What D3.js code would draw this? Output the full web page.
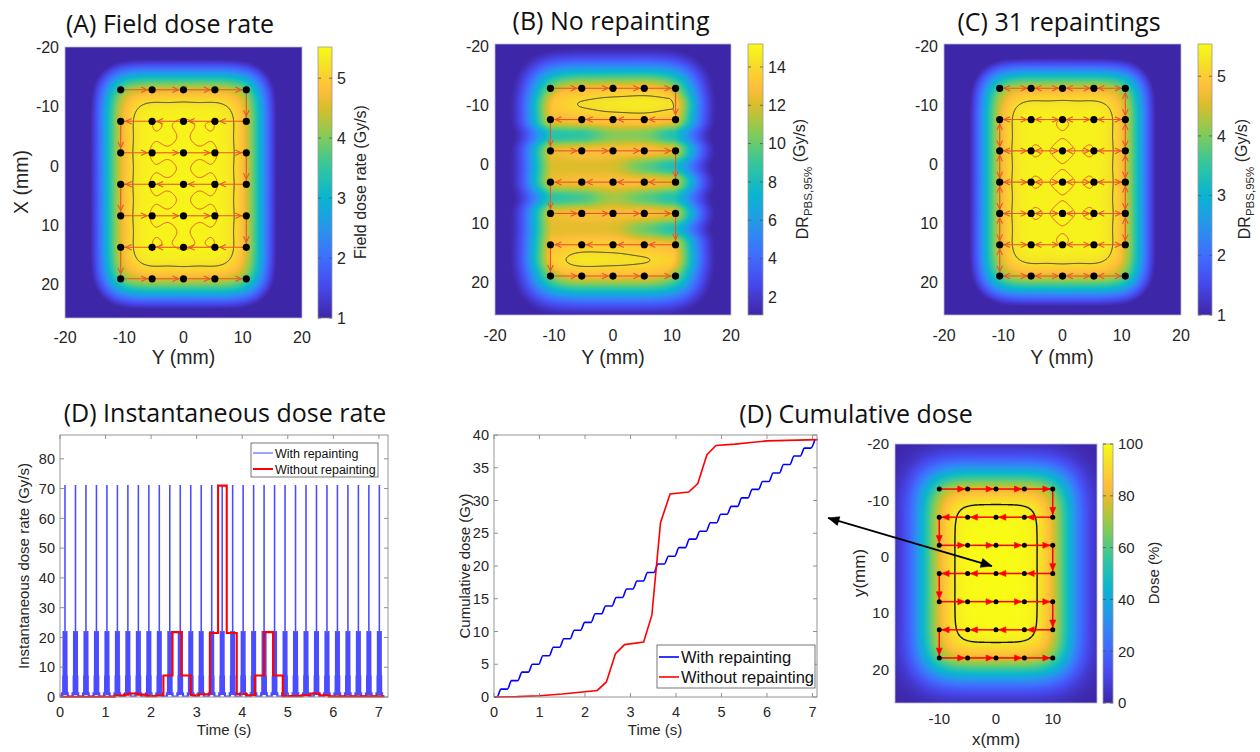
<!DOCTYPE html>
<html>
<head>
<meta charset="utf-8">
<script src="https://cdn.jsdelivr.net/npm/d3@7"></script>
<style>
  body { margin: 0; background: #fff; }
  text { font-family: "Liberation Sans", Arial, sans-serif; fill: #262626; }
  .title { font-family: "Open Sans", "Noto Sans", sans-serif; fill: #111; }
</style>
</head>
<body>
<svg id="fig" width="1260" height="752"></svg>
<script>
(function(d3) {
  'use strict';

  // ---------- data ----------
  var mapTicks = [-20, -10, 0, 10, 20];
  var spotColsABC = [-10.6, -5.3, 0, 5.3, 10.6];                 // mm
  var spotRowsABC = [-12.8, -7.5, -2.2, 3.1, 8.4, 13.7, 19.0];   // mm
  var spotColsD = [-10, -5, 0, 5, 10];
  var spotRowsD = [-12, -7, -2, 3, 8, 13, 18];

  var peakRateA = 5.45;   // Gy/s, plateau of field dose rate
  var peakRateC = 5.45;
  var cbTicksA = [1, 2, 3, 4, 5];
  var cbTicksB = [2, 4, 6, 8, 10, 12, 14];
  var cbTicksC = [1, 2, 3, 4, 5];
  var cbTicksD = [0, 20, 40, 60, 80, 100];

  // (B) DR_PBS,95% on the spot columns, on spot rows and half way between them (Gy/s)
  var drRowsB = [-12.8, -10.15, -7.5, -4.85, -2.2, 0.45, 3.1, 5.75, 8.4, 11.05, 13.7, 16.35, 19.0];
  var drGridB = [
    [12.6, 13.0, 13.2, 13.4, 13.0],
    [13.4, 14.2, 14.6, 14.8, 14.3],
    [12.8, 13.2, 13.5, 13.6, 13.0],
    [ 8.0,  8.2, 10.4, 10.2,  7.6],
    [12.6, 13.2, 13.0, 13.4, 12.6],
    [12.0, 12.0, 12.0,  9.4,  7.6],
    [12.6, 13.0, 13.0, 13.2, 12.6],
    [ 8.2,  8.8, 11.2,  9.4,  7.8],
    [12.6, 13.0, 12.8, 13.2, 12.6],
    [12.2, 12.2, 12.2,  9.8,  7.8],
    [13.0, 13.6, 13.6, 13.2, 12.8],
    [13.6, 14.6, 14.4, 14.2, 13.6],
    [12.6, 13.0, 13.0, 13.0, 12.6]
  ];

  var timeTicks = [0, 1, 2, 3, 4, 5, 6, 7];
  var rateTicks = [0, 10, 20, 30, 40, 50, 60, 70, 80];
  var doseTicks = [0, 5, 10, 15, 20, 25, 30, 35, 40];

  // with repainting: one pulse per repainting (spike time, s)
  var repaintTimes = [0.11, 0.34, 0.57, 0.80, 1.03, 1.26, 1.49, 1.72, 1.95, 2.18, 2.41,
                      2.64, 2.87, 3.10, 3.33, 3.56, 3.79, 4.02, 4.25, 4.48, 4.71, 4.94,
                      5.17, 5.40, 5.63, 5.86, 6.09, 6.32, 6.55, 6.78, 7.01];
  // shape of one pulse: time offset from the spike (s) and dose rate (Gy/s)
  var pulseOffsets = [-0.115, -0.075, -0.066, -0.050, -0.042, -0.033, -0.025, -0.013, -0.004,
                      0.004, 0.013, 0.025, 0.033, 0.042, 0.050, 0.062, 0.071];
  var pulseRates   = [0.3, 1.4, 0.3, 7, 22, 7, 0.9, 21.5, 71, 21.5, 0.9, 7, 22, 7, 0.3, 1.4, 0.3];

  // without repainting: step function
  var noRepTimes = [0, 1.2, 1.4, 1.5, 1.7, 1.9, 2.1, 2.27, 2.47, 2.67, 2.87, 3.05, 3.29, 3.47,
                    3.66, 3.88, 4.1, 4.28, 4.48, 4.68, 4.89, 5.3, 5.5, 5.7, 5.9, 7.12];
  var noRepRates = [0.1, 0.5, 0.8, 1.2, 0.8, 0.3, 0.5, 7.2, 21.8, 7.2, 0.6, 0.9, 21.5, 71,
                    21.5, 1.0, 0.6, 7.2, 21.8, 7.2, 0.3, 0.6, 1.2, 0.6, 0.2, 0.2];

  // cumulative dose (Gy)
  var cumWithLevels = [1.2, 2.5, 3.8, 5.0, 6.3, 7.6, 8.9, 10.2, 11.4, 12.7, 13.9, 15.2, 16.5,
                       17.7, 19.0, 20.3, 21.5, 22.8, 24.1, 25.3, 26.6, 27.9, 29.1, 30.4, 31.7,
                       32.9, 34.2, 35.5, 36.8, 38.0, 39.3];
  var cumWithoutTimes = [0, 0.5, 1.0, 1.5, 2.0, 2.27, 2.47, 2.67, 2.87, 3.29, 3.47, 3.66, 3.87,
                         4.28, 4.48, 4.68, 4.88, 5.3, 5.7, 6.0, 7.12];
  var cumWithoutDose  = [0, 0.05, 0.2, 0.45, 0.8, 1.0, 2.3, 6.6, 8.0, 8.4, 12.5, 26.6, 31.0,
                         31.3, 32.6, 37.0, 38.4, 38.6, 38.9, 39.1, 39.3];

  // MATLAB parula
  var parulaStops  = [0, 0.111, 0.222, 0.333, 0.444, 0.556, 0.667, 0.778, 0.841, 0.889, 0.937, 1];
  var parulaColors = ['#3e26a8', '#4747eb', '#3e6fff', '#2796eb', '#08b5d0', '#31c69f',
                      '#80cc59', '#dcbd29', '#febe3c', '#fccf30', '#f5e327', '#f9fb15'];

  var svg = d3.select('#fig');
  var defs = svg.append('defs');

  function parula(lo, hi) {
    return d3.scaleLinear()
      .domain(parulaStops.map(function(s) { return lo + s * (hi - lo); }))
      .range(parulaColors)
      .clamp(true);
  }

  function gaussSum(cols, rows, sigma) {
    var k = 1 / (2 * sigma * sigma);
    return function(x, y) {
      var s = 0;
      for (var i = 0; i < cols.length; i++) {
        for (var j = 0; j < rows.length; j++) {
          var dx = x - cols[i], dy = y - rows[j];
          s += Math.exp(-(dx * dx + dy * dy) * k);
        }
      }
      return s;
    };
  }

  // ---------- heat map with contours ----------
  function drawMap(p) {
    var x = d3.scaleLinear().domain(p.xDom).range([p.x0, p.x1]);
    var y = d3.scaleLinear().domain(p.yDom).range([p.y0, p.y1]);
    var w = Math.round(p.x1 - p.x0), h = Math.round(p.y1 - p.y0);
    var vals = new Float64Array(w * h);
    var canvas = document.createElement('canvas');
    canvas.width = w; canvas.height = h;
    var ctx = canvas.getContext('2d');
    var img = ctx.createImageData(w, h);
    for (var j = 0; j < h; j++) {
      for (var i = 0; i < w; i++) {
        var k = j * w + i;
        var v = p.value(x.invert(p.x0 + i + 0.5), y.invert(p.y0 + j + 0.5));
        vals[k] = v;
        var c = d3.rgb(p.color(v));
        img.data[4 * k] = c.r; img.data[4 * k + 1] = c.g;
        img.data[4 * k + 2] = c.b; img.data[4 * k + 3] = 255;
      }
    }
    ctx.putImageData(img, 0, 0);
    var g = svg.append('g');
    g.append('image')
      .attr('x', p.x0).attr('y', p.y0)
      .attr('width', w).attr('height', h)
      .attr('preserveAspectRatio', 'none')
      .attr('href', canvas.toDataURL());
    var path = d3.geoPath();
    p.contours.forEach(function(c) {
      var cont = d3.contours().size([w, h]).thresholds([c.level])(vals)[0];
      g.append('path')
        .datum(cont)
        .attr('transform', 'translate(' + p.x0 + ',' + p.y0 + ')')
        .attr('d', path)
        .attr('fill', 'none')
        .attr('stroke', c.stroke)
        .attr('stroke-width', c.width);
    });
    g.append('rect')
      .attr('x', p.x0).attr('y', p.y0)
      .attr('width', p.x1 - p.x0).attr('height', p.y1 - p.y0)
      .attr('fill', 'none').attr('stroke', '#b8b8c8').attr('stroke-width', 0.8);

    // tick labels
    (p.xTicks || mapTicks).forEach(function(t) {
      svg.append('text')
        .attr('x', x(t)).attr('y', p.xLabY)
        .attr('text-anchor', 'middle')
        .style('font-size', p.tickSize + 'px')
        .text(t);
    });
    mapTicks.forEach(function(t) {
      svg.append('text')
        .attr('x', p.x0 - 6).attr('y', y(t))
        .attr('dy', '0.36em')
        .attr('text-anchor', 'end')
        .style('font-size', p.tickSize + 'px')
        .text(t);
    });
    return { x: x, y: y, g: g };
  }

  function colorbar(x0, x1, y0, y1, dom, ticks, color, id, fontSize) {
    var s = d3.scaleLinear().domain(dom).range([y1, y0]);
    var grad = defs.append('linearGradient')
      .attr('id', id).attr('x1', 0).attr('y1', 1).attr('x2', 0).attr('y2', 0);
    d3.range(0, 1.0001, 0.02).forEach(function(f) {
      grad.append('stop')
        .attr('offset', f)
        .attr('stop-color', color(dom[0] + f * (dom[1] - dom[0])));
    });
    svg.append('rect')
      .attr('x', x0).attr('y', y0)
      .attr('width', x1 - x0).attr('height', y1 - y0)
      .attr('fill', 'url(#' + id + ')')
      .attr('stroke', '#9a9a9a').attr('stroke-width', 0.8);
    ticks.forEach(function(t) {
      svg.append('line')
        .attr('x1', x1).attr('x2', x1 - 3)
        .attr('y1', s(t)).attr('y2', s(t))
        .attr('stroke', '#555').attr('stroke-width', 0.8);
      svg.append('line')
        .attr('x1', x0).attr('x2', x0 + 3)
        .attr('y1', s(t)).attr('y2', s(t))
        .attr('stroke', '#555').attr('stroke-width', 0.8);
      svg.append('text')
        .attr('x', x1 + 5).attr('y', s(t))
        .attr('dy', '0.36em')
        .style('font-size', fontSize + 'px')
        .text(t);
    });
  }

  function rotLabel(x, y, size, parts) {
    var t = svg.append('text')
      .attr('transform', 'translate(' + x + ',' + y + ') rotate(-90)')
      .attr('text-anchor', 'middle')
      .style('font-size', size + 'px');
    parts.forEach(function(pt) {
      var ts = t.append('tspan').text(pt.text);
      if (pt.sub) ts.attr('dy', '0.35em').style('font-size', (size * 0.72) + 'px');
      if (pt.back) ts.attr('dy', '-0.45em');
    });
    return t;
  }

  function label(x, y, size, txt, cls) {
    return svg.append('text')
      .attr('class', cls || null)
      .attr('x', x).attr('y', y)
      .attr('text-anchor', 'middle')
      .style('font-size', size + 'px')
      .text(txt);
  }

  // ---------- scan pattern arrows ----------
  function head(g, ax, ay, bx, by, at, len, half, solid, color, width) {
    var dx = bx - ax, dy = by - ay, L = Math.sqrt(dx * dx + dy * dy);
    var ux = dx / L, uy = dy / L;
    var tx = ax + dx * at, ty = ay + dy * at;
    var cx = tx - ux * len, cy = ty - uy * len;
    var d = 'M' + (cx - uy * half) + ',' + (cy + ux * half) +
            'L' + tx + ',' + ty +
            'L' + (cx + uy * half) + ',' + (cy - ux * half);
    if (solid) {
      g.append('path').attr('d', d + 'Z').attr('fill', color).attr('stroke', color)
        .attr('stroke-width', 0.6);
    } else {
      g.append('path').attr('d', d).attr('fill', 'none').attr('stroke', color)
        .attr('stroke-width', width);
    }
  }

  function serpentine(cols, rows) {
    var pts = [];
    rows.forEach(function(r, i) {
      var cs = (i % 2) ? cols.slice().reverse() : cols;
      cs.forEach(function(c) { pts.push([c, r]); });
    });
    var segs = [];
    for (var i = 1; i < pts.length; i++) segs.push([pts[i - 1], pts[i]]);
    return segs;
  }

  function drawScan(m, segs, o) {
    segs.forEach(function(s) {
      var ax = m.x(s[0][0]), ay = m.y(s[0][1]), bx = m.x(s[1][0]), by = m.y(s[1][1]);
      m.g.append('line')
        .attr('x1', ax).attr('y1', ay).attr('x2', bx).attr('y2', by)
        .attr('stroke', o.color).attr('stroke-width', o.width);
      head(m.g, ax, ay, bx, by, o.at, o.len, o.half, o.solid, o.color, o.width);
      if (o.both) head(m.g, bx, by, ax, ay, o.at, o.len, o.half, o.solid, o.color, o.width);
    });
  }

  function drawSpots(m, cols, rows, r) {
    rows.forEach(function(yy) {
      cols.forEach(function(xx) {
        m.g.append('circle').attr('cx', m.x(xx)).attr('cy', m.y(yy)).attr('r', r)
          .attr('fill', '#000');
      });
    });
  }

  var scanStyle = { color: '#e9552b', width: 1.1, at: 0.84, len: 6, half: 2.8, solid: false };

  // ---------- (A) field dose rate ----------
  var sigmaABC = 3.2;
  var fABC = gaussSum(spotColsABC, spotRowsABC, sigmaABC);
  var nABC = fABC(0, 3.1);
  var cellABC = fABC(2.65, 5.75);

  var colA = parula(1, 5.52);
  var mA = drawMap({
    x0: 65, x1: 302, y0: 47, y1: 318, xDom: [-20, 20], yDom: [-20, 25.6],
    value: function(x, y) { return peakRateA * fABC(x, y) / nABC; },
    color: colA, xLabY: 343, tickSize: 16,
    contours: [
      { level: peakRateA * 0.95, stroke: '#3a3a3a', width: 1 },
      { level: peakRateA * (cellABC + 0.3 * (nABC - cellABC)) / nABC, stroke: '#e9552b', width: 1 }
    ]
  });
  drawScan(mA, serpentine(spotColsABC, spotRowsABC), scanStyle);
  drawSpots(mA, spotColsABC, spotRowsABC, 3.6);
  colorbar(318, 332, 47, 318, [1, 5.52], cbTicksA, colA, 'cbA', 16);
  rotLabel(366, 182, 16, [{ text: 'Field dose rate (Gy/s)' }]);
  rotLabel(28, 182, 19.5, [{ text: 'X (mm)' }]);
  label(183.5, 364, 19.5, 'Y (mm)');
  label(170, 33, 25, '(A) Field dose rate', 'title');

  // ---------- (B) no repainting ----------
  var sxB = 2.4, syB = 1.1;
  function nodeB(x, y) {
    var sw = 0, sv = 0;
    for (var r = 0; r < drRowsB.length; r++) {
      var dy = y - drRowsB[r];
      var wy = Math.exp(-dy * dy / (2 * syB * syB));
      for (var c = 0; c < spotColsABC.length; c++) {
        var dx = x - spotColsABC[c];
        var w = wy * Math.exp(-dx * dx / (2 * sxB * sxB)) + 1e-12;
        sw += w; sv += w * drGridB[r][c];
      }
    }
    return sv / sw;
  }
  var colB = parula(1.05, 15.2);
  var mB = drawMap({
    x0: 495, x1: 731, y0: 44, y1: 315, xDom: [-20, 20], yDom: [-20.3, 25.6],
    value: function(x, y) {
      var env = Math.min(1, 1.18 * fABC(x, y) / nABC);
      return nodeB(x, y) * env;
    },
    color: colB, xLabY: 341, tickSize: 16,
    contours: [{ level: 14, stroke: '#2a2a2a', width: 0.9 }]
  });
  drawScan(mB, serpentine(spotColsABC, spotRowsABC), scanStyle);
  drawSpots(mB, spotColsABC, spotRowsABC, 3.6);
  colorbar(748, 763, 44, 315, [1.05, 15.2], cbTicksB, colB, 'cbB', 16);
  rotLabel(808, 179, 16, [{ text: 'DR' }, { text: 'PBS,95%', sub: true }, { text: ' (Gy/s)', back: true }]);
  label(613, 364, 19.5, 'Y (mm)');
  label(611, 30, 25, '(B) No repainting', 'title');

  // ---------- (C) 31 repaintings ----------
  var colC = parula(1, 5.54);
  var mC = drawMap({
    x0: 944, x1: 1181, y0: 44, y1: 315, xDom: [-20, 20], yDom: [-20.3, 25.6],
    value: function(x, y) { return peakRateC * fABC(x, y) / nABC; },
    color: colC, xLabY: 341, tickSize: 16,
    contours: [
      { level: peakRateC * 0.95, stroke: '#3a3a3a', width: 1 },
      { level: peakRateC * (cellABC + 0.55 * (nABC - cellABC)) / nABC, stroke: '#e9552b', width: 1 }
    ]
  });
  var segsC = [];
  spotRowsABC.forEach(function(r) {
    for (var i = 1; i < spotColsABC.length; i++) segsC.push([[spotColsABC[i - 1], r], [spotColsABC[i], r]]);
  });
  for (var ri = 1; ri < spotRowsABC.length; ri++) {
    if (ri >= 2) segsC.push([[spotColsABC[0], spotRowsABC[ri - 1]], [spotColsABC[0], spotRowsABC[ri]]]);
    if (ri <= 5) segsC.push([[spotColsABC[4], spotRowsABC[ri - 1]], [spotColsABC[4], spotRowsABC[ri]]]);
  }
  drawScan(mC, segsC, Object.assign({}, scanStyle, { both: true, at: 0.86 }));
  drawSpots(mC, spotColsABC, spotRowsABC, 3.6);
  colorbar(1198, 1212, 44, 315, [1, 5.54], cbTicksC, colC, 'cbC', 16);
  rotLabel(1250, 179, 16, [{ text: 'DR' }, { text: 'PBS,95%', sub: true }, { text: ' (Gy/s)', back: true }]);
  label(1062, 364, 19.5, 'Y (mm)');
  label(1059, 31, 25, '(C) 31 repaintings', 'title');

  // ---------- line chart axes helper ----------
  function lineAxes(x0, x1, y0, y1, xDom, yDom, xt, yt, fs) {
    var x = d3.scaleLinear().domain(xDom).range([x0, x1]);
    var y = d3.scaleLinear().domain(yDom).range([y1, y0]);
    var g = svg.append('g');
    g.append('rect').attr('x', x0).attr('y', y0).attr('width', x1 - x0).attr('height', y1 - y0)
      .attr('fill', '#fff');
    var ax = svg.append('g');
    xt.forEach(function(t) {
      ax.append('line').attr('x1', x(t)).attr('x2', x(t)).attr('y1', y1).attr('y2', y1 - 4)
        .attr('stroke', '#777').attr('stroke-width', 0.8);
      ax.append('line').attr('x1', x(t)).attr('x2', x(t)).attr('y1', y0).attr('y2', y0 + 4)
        .attr('stroke', '#777').attr('stroke-width', 0.8);
      ax.append('text').attr('x', x(t)).attr('y', y1 + 20).attr('text-anchor', 'middle')
        .style('font-size', fs + 'px').text(t);
    });
    yt.forEach(function(t) {
      ax.append('line').attr('x1', x0).attr('x2', x0 + 4).attr('y1', y(t)).attr('y2', y(t))
        .attr('stroke', '#777').attr('stroke-width', 0.8);
      ax.append('line').attr('x1', x1).attr('x2', x1 - 4).attr('y1', y(t)).attr('y2', y(t))
        .attr('stroke', '#777').attr('stroke-width', 0.8);
      ax.append('text').attr('x', x0 - 5).attr('y', y(t)).attr('dy', '0.36em')
        .attr('text-anchor', 'end').style('font-size', fs + 'px').text(t);
    });
    ax.append('rect').attr('x', x0).attr('y', y0).attr('width', x1 - x0).attr('height', y1 - y0)
      .attr('fill', 'none').attr('stroke', '#8a8a8a').attr('stroke-width', 0.9);
    return { x: x, y: y, g: g, ax: ax };
  }

  function legend(x0, y0, w, h, rows, fs, lineLen, rowGap, firstY) {
    var g = svg.append('g');
    g.append('rect').attr('x', x0).attr('y', y0).attr('width', w).attr('height', h)
      .attr('fill', '#fff').attr('stroke', '#555').attr('stroke-width', 0.8);
    rows.forEach(function(r, i) {
      var yy = y0 + firstY + i * rowGap;
      g.append('line').attr('x1', x0 + 2).attr('x2', x0 + 2 + lineLen).attr('y1', yy).attr('y2', yy)
        .attr('stroke', r.color).attr('stroke-width', r.width);
      g.append('text').attr('x', x0 + 4 + lineLen).attr('y', yy).attr('dy', '0.36em')
        .style('font-size', fs + 'px').style('fill', '#111').text(r.text);
    });
  }

  // ---------- (D) instantaneous dose rate ----------
  var pI = lineAxes(60, 388, 435, 697, [0, 7.2], [0, 88], timeTicks, rateTicks, 14.5);
  var bluePts = [[0, 0.3]];
  repaintTimes.forEach(function(t) {
    pulseOffsets.forEach(function(o, i) { bluePts.push([Math.max(0, t + o), pulseRates[i]]); });
  });
  bluePts.push([7.12, 0.3]);
  var stepLine = d3.line()
    .x(function(d) { return pI.x(d[0]); })
    .y(function(d) { return pI.y(d[1]); })
    .curve(d3.curveStepAfter);
  pI.g.append('path').datum(bluePts).attr('d', stepLine)
    .attr('fill', 'none').attr('stroke', '#2b2bff').attr('stroke-opacity', 0.85).attr('stroke-width', 1.2);
  var redPts = noRepTimes.map(function(t, i) { return [t, noRepRates[i]]; });
  pI.g.append('path').datum(redPts).attr('d', stepLine)
    .attr('fill', 'none').attr('stroke', '#ff0000').attr('stroke-width', 2.1);
  legend(251, 443, 127, 34, [
    { text: 'With repainting', color: '#4444ff', width: 1 },
    { text: 'Without repainting', color: '#ff0000', width: 2 }
  ], 12.5, 20, 16, 10);
  rotLabel(29, 566, 15, [{ text: 'Instantaneous dose rate (Gy/s)' }]);
  label(224, 735, 15, 'Time (s)');
  label(225, 422, 25, '(D) Instantaneous dose rate', 'title');

  // ---------- (D) cumulative dose ----------
  var pC = lineAxes(494, 817, 435, 697, [0, 7.1], [0, 40], timeTicks, doseTicks, 14.5);
  var cumWith = [[0, 0]];
  repaintTimes.forEach(function(t, k) {
    cumWith.push([t - 0.045, k ? cumWithLevels[k - 1] : 0]);
    cumWith.push([t + 0.045, cumWithLevels[k]]);
  });
  var smoothLine = d3.line()
    .x(function(d) { return pC.x(d[0]); })
    .y(function(d) { return pC.y(d[1]); })
    .curve(d3.curveMonotoneX);
  pC.g.append('path').datum(cumWith).attr('d', smoothLine)
    .attr('fill', 'none').attr('stroke', '#0000ff').attr('stroke-width', 1.6);
  var cumWithout = cumWithoutTimes.map(function(t, i) { return [t, cumWithoutDose[i]]; });
  pC.g.append('path').datum(cumWithout).attr('d', smoothLine.curve(d3.curveLinear))
    .attr('fill', 'none').attr('stroke', '#ff0000').attr('stroke-width', 1.6);
  legend(657, 645, 158, 43, [
    { text: 'With repainting', color: '#0000ff', width: 1.6 },
    { text: 'Without repainting', color: '#ff0000', width: 1.6 }
  ], 16.5, 20, 20, 12);
  rotLabel(470, 566, 15, [{ text: 'Cumulative dose (Gy)' }]);
  label(655, 735, 15, 'Time (s)');
  label(856, 423, 25, '(D) Cumulative dose', 'title');

  // ---------- (D) dose map ----------
  var fD = gaussSum(spotColsD, spotRowsD, 3.5);
  var nD = fD(0, 3);
  var colD = parula(0, 100);
  var mD = drawMap({
    x0: 895, x1: 1097, y0: 444, y1: 703, xDom: [-17.8, 17.8], yDom: [-20, 26],
    value: function(x, y) { return 100 * fD(x, y) / nD; },
    color: colD, xLabY: 724, tickSize: 15, xTicks: [-10, 0, 10],
    contours: [{ level: 95, stroke: '#111', width: 1.4 }]
  });
  drawScan(mD, serpentine(spotColsD, spotRowsD),
    { color: '#ff0000', width: 1.5, at: 0.9, len: 7, half: 3, solid: true });
  drawSpots(mD, spotColsD, spotRowsD, 2.5);
  colorbar(1103, 1113, 444, 703, [0, 100], cbTicksD, colD, 'cbD', 15);
  rotLabel(1159, 573, 15, [{ text: 'Dose (%)' }]);
  rotLabel(865, 573, 17, [{ text: 'y(mm)' }]);
  label(996, 745, 17, 'x(mm)');

  // link arrow from the cumulative plot to the point of interest
  var arrowFrom = [-29.6, -6.86], arrowTo = [-0.7, 1.67];
  var ag = svg.append('g');
  var a0 = [mD.x(arrowFrom[0]), mD.y(arrowFrom[1])], a1 = [mD.x(arrowTo[0]), mD.y(arrowTo[1])];
  ag.append('line').attr('x1', a0[0]).attr('y1', a0[1]).attr('x2', a1[0]).attr('y2', a1[1])
    .attr('stroke', '#000').attr('stroke-width', 1.8);
  head(ag, a0[0], a0[1], a1[0], a1[1], 1, 11, 4.5, true, '#000', 1);
  head(ag, a1[0], a1[1], a0[0], a0[1], 1, 11, 4.5, true, '#000', 1);
})(window.d3);
</script>
</body>
</html>
